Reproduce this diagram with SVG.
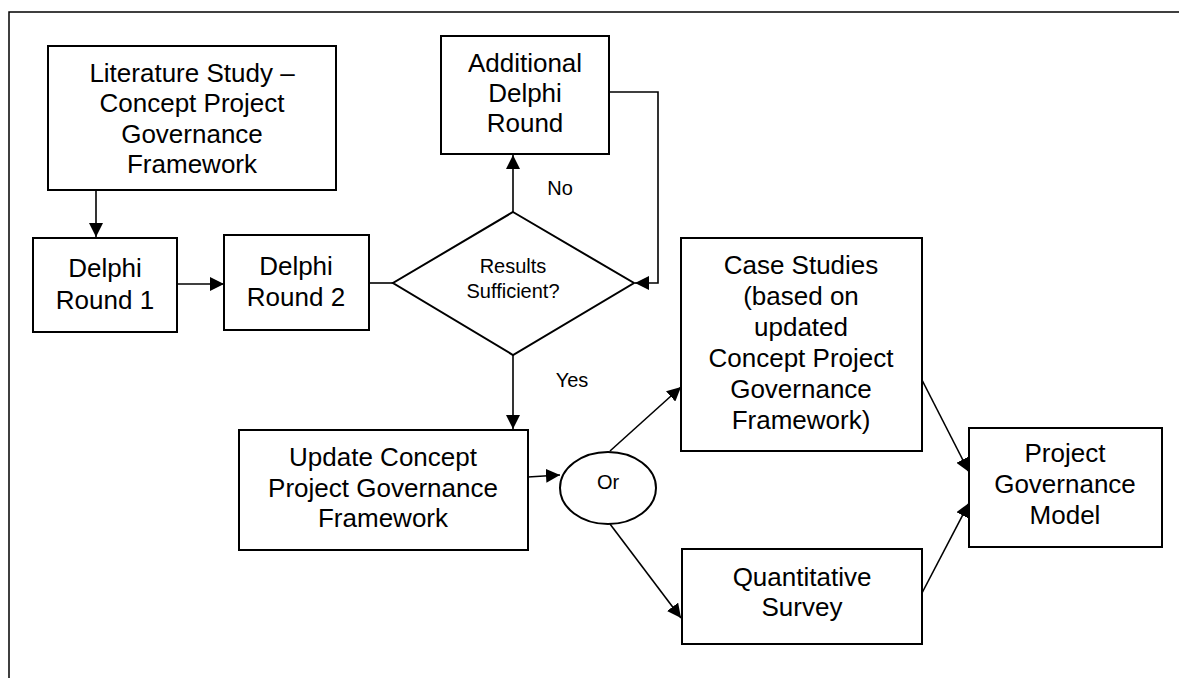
<svg xmlns="http://www.w3.org/2000/svg" width="1179" height="678" viewBox="0 0 1179 678">
  <style>
    .box { fill: #fff; stroke: #000; stroke-width: 2; }
    .lbl { font-family: "Liberation Sans", Arial, sans-serif; font-size: 26px; fill: #000; text-anchor: middle; }
    .sm { font-family: "Liberation Sans", Arial, sans-serif; font-size: 20px; fill: #000; text-anchor: middle; }
    .edge { fill: none; stroke: #000; stroke-width: 1.6; }
  </style>
  <defs>
    <marker id="arrowL" viewBox="0 0 10 10" refX="10" refY="5" markerWidth="14" markerHeight="14" markerUnits="userSpaceOnUse" orient="auto">
      <path d="M0,0 L10,5 L0,10 z" fill="#000"/>
    </marker>
  </defs>

  <rect width="1179" height="678" fill="#fff"/>
  <!-- outer frame -->
  <path d="M9,690 V12 H1190" fill="none" stroke="#000" stroke-width="1.5"/>

  <g id="connectors">
    <line class="edge" x1="96" y1="190" x2="96" y2="237" marker-end="url(#arrowL)"/>
    <line class="edge" x1="177" y1="284" x2="224" y2="284" marker-end="url(#arrowL)"/>
    <line class="edge" x1="369" y1="283" x2="393" y2="283"/>
    <line class="edge" x1="513" y1="212" x2="513" y2="155" marker-end="url(#arrowL)"/>
    <polyline class="edge" points="609,92 658,92 658,283 635,283" marker-end="url(#arrowL)"/>
    <line class="edge" x1="513" y1="355" x2="513" y2="429" marker-end="url(#arrowL)"/>
    <line class="edge" x1="528" y1="477" x2="560" y2="475" marker-end="url(#arrowL)"/>
    <line class="edge" x1="610" y1="451" x2="681" y2="387" marker-end="url(#arrowL)"/>
    <line class="edge" x1="610" y1="524" x2="681" y2="618" marker-end="url(#arrowL)"/>
    <line class="edge" x1="922" y1="380" x2="969" y2="472" marker-end="url(#arrowL)"/>
    <line class="edge" x1="922" y1="593" x2="969" y2="503" marker-end="url(#arrowL)"/>
    <text class="sm" x="560" y="195">No</text>
    <text class="sm" x="572" y="387">Yes</text>
  </g>

  <g id="literature">
    <rect class="box" x="48" y="46" width="288" height="144"/>
    <text class="lbl" x="192" y="82">Literature Study –</text>
    <text class="lbl" x="192" y="112">Concept Project</text>
    <text class="lbl" x="192" y="143">Governance</text>
    <text class="lbl" x="192" y="173">Framework</text>
  </g>

  <g id="delphi1">
    <rect class="box" x="33" y="238" width="144" height="94"/>
    <text class="lbl" x="105" y="277">Delphi</text>
    <text class="lbl" x="105" y="309">Round 1</text>
  </g>

  <g id="delphi2">
    <rect class="box" x="224" y="235" width="145" height="95"/>
    <text class="lbl" x="296" y="275">Delphi</text>
    <text class="lbl" x="296" y="306">Round 2</text>
  </g>

  <g id="additional">
    <rect class="box" x="441" y="36" width="168" height="118"/>
    <text class="lbl" x="525" y="72">Additional</text>
    <text class="lbl" x="525" y="102">Delphi</text>
    <text class="lbl" x="525" y="132">Round</text>
  </g>

  <g id="decision">
    <polygon class="box" points="513,212 634,283 513,355 393,283"/>
    <text class="sm" x="513" y="273">Results</text>
    <text class="sm" x="513" y="298">Sufficient?</text>
  </g>

  <g id="update">
    <rect class="box" x="239" y="430" width="289" height="120"/>
    <text class="lbl" x="383" y="466">Update Concept</text>
    <text class="lbl" x="383" y="497">Project Governance</text>
    <text class="lbl" x="383" y="527">Framework</text>
  </g>

  <g id="or">
    <ellipse class="box" cx="608" cy="488" rx="48" ry="36"/>
    <text class="sm" x="608" y="489">Or</text>
  </g>

  <g id="casestudies">
    <rect class="box" x="681" y="238" width="241" height="213"/>
    <text class="lbl" x="801" y="274">Case Studies</text>
    <text class="lbl" x="801" y="305">(based on</text>
    <text class="lbl" x="801" y="336">updated</text>
    <text class="lbl" x="801" y="367">Concept Project</text>
    <text class="lbl" x="801" y="398">Governance</text>
    <text class="lbl" x="801" y="429">Framework)</text>
  </g>

  <g id="survey">
    <rect class="box" x="682" y="549" width="240" height="95"/>
    <text class="lbl" x="802" y="586">Quantitative</text>
    <text class="lbl" x="802" y="616">Survey</text>
  </g>

  <g id="model">
    <rect class="box" x="969" y="428" width="193" height="119"/>
    <text class="lbl" x="1065" y="462">Project</text>
    <text class="lbl" x="1065" y="493">Governance</text>
    <text class="lbl" x="1065" y="524">Model</text>
  </g>
</svg>
